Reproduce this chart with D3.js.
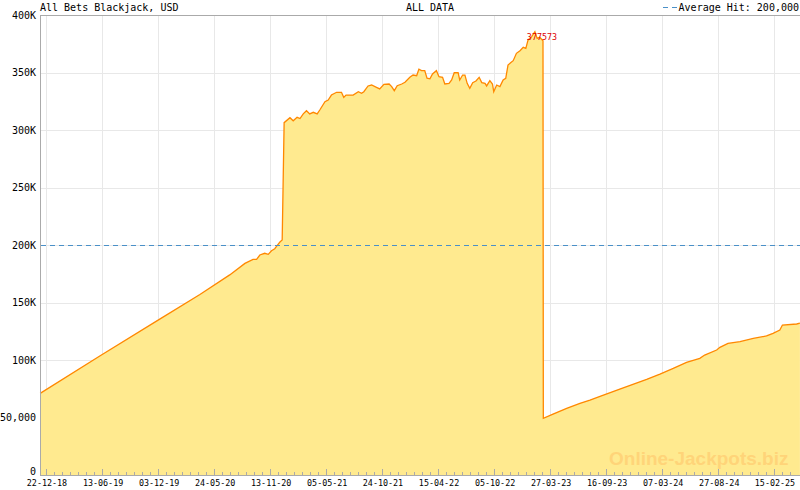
<!DOCTYPE html>
<html>
<head>
<meta charset="utf-8">
<script src="https://cdn.jsdelivr.net/npm/d3@7"></script>
<style>
  body { margin: 0; background: #fff; }
  svg { display: block; }
  text { font-family: "DejaVu Sans Mono", "Liberation Mono", monospace; }
</style>
</head>
<body>
<svg id="chart" width="800" height="490"></svg>
<script>
// jackpot amount, [date, USD]
const jackpot = [
  ["2018-12-04", 71000], ["2019-06-06", 103500], ["2019-12-08", 135500],
  ["2020-04-10", 157000], ["2020-07-11", 174000], ["2020-08-27", 184000],
  ["2020-09-21", 187500], ["2020-10-02", 187500], ["2020-10-12", 191300],
  ["2020-10-27", 192800], ["2020-11-07", 191900], ["2020-11-17", 195000],
  ["2020-11-27", 196800], ["2020-12-03", 199100], ["2020-12-13", 202600],
  ["2020-12-20", 204300], ["2020-12-26", 306400], ["2021-01-13", 310700],
  ["2021-01-23", 308000], ["2021-02-04", 311000], ["2021-02-13", 310000],
  ["2021-02-23", 314000], ["2021-03-05", 316800], ["2021-03-15", 314000],
  ["2021-03-26", 315400], ["2021-04-07", 314000], ["2021-04-15", 317400],
  ["2021-05-01", 324600], ["2021-05-11", 326000], ["2021-05-21", 330400],
  ["2021-06-06", 332800], ["2021-06-21", 332800], ["2021-06-28", 328400],
  ["2021-07-05", 330400], ["2021-07-27", 330400], ["2021-08-12", 333300],
  ["2021-08-22", 331900], ["2021-08-29", 333300], ["2021-09-11", 338300],
  ["2021-09-22", 339100], ["2021-10-07", 337100], ["2021-10-17", 335700],
  ["2021-10-30", 339700], ["2021-11-15", 340000], ["2021-11-23", 337700],
  ["2021-12-01", 334200], ["2021-12-10", 338500], ["2021-12-24", 340000],
  ["2022-01-03", 341500], ["2022-01-18", 345800], ["2022-01-28", 347800],
  ["2022-02-08", 347200], ["2022-02-15", 352800], ["2022-02-23", 351600],
  ["2022-03-05", 351600], ["2022-03-12", 345000], ["2022-03-21", 344500],
  ["2022-03-29", 348700], ["2022-04-10", 351600], ["2022-04-18", 346400],
  ["2022-04-29", 345800], ["2022-05-06", 340000], ["2022-05-19", 340600],
  ["2022-05-27", 343500], ["2022-06-04", 349800], ["2022-06-16", 349800],
  ["2022-06-21", 343500], ["2022-06-30", 347800], ["2022-07-07", 347800],
  ["2022-07-14", 340600], ["2022-07-22", 336200], ["2022-07-31", 341200],
  ["2022-08-10", 342600], ["2022-08-20", 345800], ["2022-08-28", 341200],
  ["2022-09-07", 340600], ["2022-09-12", 338300], ["2022-09-22", 342900],
  ["2022-09-30", 340000], ["2022-10-04", 333300], ["2022-10-13", 339100],
  ["2022-10-23", 337700], ["2022-11-02", 343500], ["2022-11-10", 345000],
  ["2022-11-17", 356500], ["2022-11-25", 358500], ["2022-12-03", 360300],
  ["2022-12-13", 366700], ["2022-12-24", 369000], ["2023-01-03", 371900],
  ["2023-01-11", 371000], ["2023-01-18", 378300], ["2023-01-29", 381200],
  ["2023-02-08", 385500], ["2023-02-15", 379700], ["2023-02-23", 380600],
  ["2023-03-05", 377573], ["2023-03-06", 49300], ["2023-04-05", 53000],
  ["2023-05-17", 58000], ["2023-06-27", 62300], ["2023-07-28", 65200],
  ["2023-08-28", 68400], ["2023-10-28", 74700], ["2024-01-19", 83200],
  ["2024-02-29", 87800], ["2024-04-10", 92700], ["2024-05-21", 98000],
  ["2024-07-01", 101400], ["2024-07-16", 104300], ["2024-08-22", 108700],
  ["2024-09-01", 111000], ["2024-09-26", 114500], ["2024-11-02", 115900],
  ["2024-12-13", 118800], ["2025-01-23", 120900], ["2025-02-12", 123200],
  ["2025-03-05", 126000], ["2025-03-13", 130400], ["2025-04-26", 131300],
  ["2025-05-06", 132000]
];

// last value before the hit, shown in red
const hitDate = "2023-03-05";
const averageHit = 200000;

const xTickLabels = ["22-12-18", "13-06-19", "03-12-19", "24-05-20", "13-11-20",
  "05-05-21", "24-10-21", "15-04-22", "05-10-22", "27-03-23", "16-09-23",
  "07-03-24", "27-08-24", "15-02-25"];
const yTickValues = [0, 50000, 100000, 150000, 200000, 250000, 300000, 350000, 400000];
const yTickLabels = ["0", "50,000", "100K", "150K", "200K", "250K", "300K", "350K", "400K"];

const title = "All Bets Blackjack, USD";
const subtitle = "ALL DATA";
const legendText = "Average Hit: 200,000";
const watermark = "Online-Jackpots.biz";

const parseDay = d3.timeParse("%Y-%m-%d");
const parseTick = d3.timeParse("%d-%m-%y");

const data = jackpot.map(([d, v]) => ({ date: parseDay(d), value: v }));
const majorTicks = xTickLabels.map(parseTick);

const svg = d3.select("#chart");
const plot = { left: 40, top: 15, bottom: 475, right: 800 };

const x = d3.scaleTime()
  .domain([majorTicks[0], majorTicks[majorTicks.length - 1]])
  .range([46, 774]);
const y = d3.scaleLinear().domain([0, 400000]).range([plot.bottom, plot.top]);

// minor ticks: 7 steps between majors, carried on past the last one
const minorTicks = [];
const step = (majorTicks[1] - majorTicks[0]) / 7;
for (let i = 0; i < majorTicks.length; i++) {
  const t0 = +majorTicks[i];
  const last = i === majorTicks.length - 1;
  const t1 = last ? +x.invert(plot.right) : +majorTicks[i + 1];
  const s = last ? step : (t1 - t0) / 7;
  for (let t = t0 + s; t < t1 - s / 2; t += s) minorTicks.push(new Date(t));
}

const px = v => Math.round(v) + 0.5;

// grid
const grid = svg.append("g").attr("shape-rendering", "crispEdges");
grid.selectAll(".hgrid")
  .data(yTickValues.filter(v => v > 0 && v < 400000))
  .join("line")
  .attr("x1", plot.left).attr("x2", plot.right)
  .attr("y1", d => px(y(d))).attr("y2", d => px(y(d)))
  .attr("stroke", "#e8e8e8");
grid.selectAll(".vgrid")
  .data(majorTicks)
  .join("line")
  .attr("x1", d => px(x(d))).attr("x2", d => px(x(d)))
  .attr("y1", plot.top).attr("y2", plot.bottom)
  .attr("stroke", "#e8e8e8");

// area + line
const area = d3.area()
  .x(d => x(d.date))
  .y0(y(0))
  .y1(d => y(d.value));
const line = d3.line()
  .x(d => x(d.date))
  .y(d => y(d.value));

svg.append("path")
  .datum(data)
  .attr("d", area)
  .attr("fill", "#ffea8f");

svg.append("path")
  .datum(data)
  .attr("d", line)
  .attr("fill", "none")
  .attr("stroke", "#ff8800")
  .attr("stroke-width", 1.3);

// watermark
svg.append("text")
  .attr("x", 609).attr("y", 465)
  .attr("fill", "#ffd479")
  .style("font-family", "'Liberation Sans', Arial, sans-serif")
  .style("font-weight", "bold")
  .style("font-size", "19px")
  .text(watermark);

// average hit line
svg.append("line")
  .attr("x1", plot.left + 1).attr("x2", plot.right)
  .attr("y1", px(y(averageHit))).attr("y2", px(y(averageHit)))
  .attr("stroke", "#4a90c8")
  .attr("stroke-dasharray", "5,4")
  .attr("shape-rendering", "crispEdges");

// axes frame
const frame = svg.append("g").attr("shape-rendering", "crispEdges").attr("stroke", "#aaaaaa");
frame.append("line").attr("x1", plot.left + 0.5).attr("x2", plot.left + 0.5).attr("y1", plot.top).attr("y2", plot.bottom + 1);
frame.append("line").attr("x1", plot.left).attr("x2", plot.right).attr("y1", plot.top + 0.5).attr("y2", plot.top + 0.5);
frame.append("line").attr("x1", plot.left).attr("x2", plot.right).attr("y1", plot.bottom + 0.5).attr("y2", plot.bottom + 0.5);

frame.selectAll(".major")
  .data(majorTicks)
  .join("line")
  .attr("x1", d => px(x(d))).attr("x2", d => px(x(d)))
  .attr("y1", plot.bottom - 6).attr("y2", plot.bottom);
frame.selectAll(".minor")
  .data(minorTicks)
  .join("line")
  .attr("x1", d => px(x(d))).attr("x2", d => px(x(d)))
  .attr("y1", plot.bottom - 3).attr("y2", plot.bottom);

// x labels
svg.selectAll(".xlabel")
  .data(majorTicks)
  .join("text")
  .attr("x", d => x(d) + 1)
  .attr("y", 486)
  .attr("text-anchor", "middle")
  .style("font-size", "8.4px")
  .attr("fill", "#000")
  .text((d, i) => xTickLabels[i]);

// y labels (the 0 sits on the axis line, not centred on it)
svg.selectAll(".ylabel")
  .data(yTickValues)
  .join("text")
  .attr("x", 36)
  .attr("y", d => d === 0 ? y(d) : y(d) + 3.5)
  .attr("text-anchor", "end")
  .style("font-size", "10px")
  .attr("fill", "#000")
  .text((d, i) => yTickLabels[i]);

// header
svg.append("text").attr("x", 40).attr("y", 11).style("font-size", "10px").text(title);
svg.append("text").attr("x", 430).attr("y", 11).attr("text-anchor", "middle").style("font-size", "10px").text(subtitle);
svg.append("line")
  .attr("x1", 663).attr("x2", 677).attr("y1", 7.5).attr("y2", 7.5)
  .attr("stroke", "#4a90c8").attr("stroke-dasharray", "5,4")
  .attr("shape-rendering", "crispEdges");
svg.append("text").attr("x", 799).attr("y", 11).attr("text-anchor", "end").style("font-size", "10px").text(legendText);

// value before the hit
const hit = data.find(d => +d.date === +parseDay(hitDate));
svg.append("text")
  .attr("x", x(hit.date) - 1)
  .attr("y", y(hit.value) - 1)
  .attr("text-anchor", "middle")
  .attr("fill", "#dd0000")
  .style("font-size", "8.4px")
  .text(hit.value);
</script>
</body>
</html>
